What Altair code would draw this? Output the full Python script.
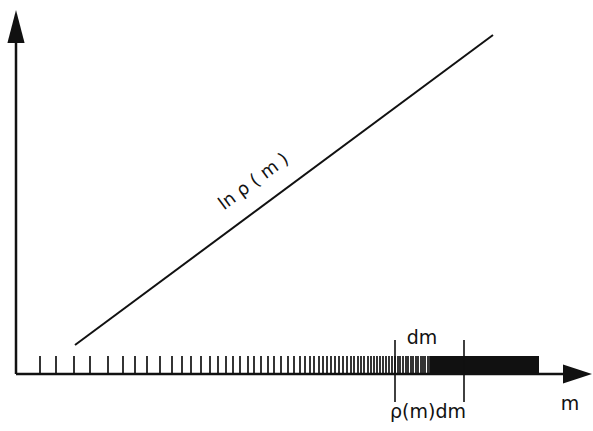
import altair as alt
import pandas as pd

W, H = 593, 431

# Tick positions along the m axis: spacing shrinks as the level density grows
tick_m = [40, 56, 74, 90, 108, 123, 135, 147, 160, 172, 182, 191, 201, 210,
          218, 226, 233, 240, 248, 254, 261, 268, 274, 281, 288, 294, 300,
          305, 310, 314, 319, 323, 327, 331, 335, 339, 343, 347, 351, 354,
          358, 361, 364, 368, 371, 374, 377, 380, 383, 386, 389, 392, 395,
          398, 400, 403, 406, 408, 411, 413, 416, 418, 421, 423, 425, 428,
          430, 432]
tick_base, tick_top = 57, 75

# Region where the levels merge into a continuum
band_m = [430, 539]

# Interval dm
dm_edges = [395, 464]
dm_low, dm_high = 29, 91

# ln rho(m) straight line
line_m = [75, 493]
line_val = [86, 396]

# Axes (origin and ends)
origin = (16, 57)
y_axis_end = 388
x_axis_end = 565

x_scale = alt.Scale(domain=[0, W], nice=False, zero=False)
y_scale = alt.Scale(domain=[0, H], nice=False, zero=False)
INK = "#111111"


def X(field, **kw):
    return alt.X(field, type="quantitative", scale=x_scale, axis=None, **kw)


def Y(field, **kw):
    return alt.Y(field, type="quantitative", scale=y_scale, axis=None, **kw)


axes_df = pd.DataFrame({
    "x": [origin[0], origin[0]],
    "y": [origin[1], origin[1]],
    "x2": [origin[0], x_axis_end],
    "y2": [y_axis_end, origin[1]],
})
axes = alt.Chart(axes_df).mark_rule(color=INK, strokeWidth=2.5).encode(
    x=X("x"), y=Y("y"), x2="x2", y2="y2")

up_head = alt.Chart(pd.DataFrame({"x": [origin[0]], "y": [404.5]})).mark_point(
    shape="M0,-1L0.52,1L-0.52,1Z", filled=True, opacity=1, color=INK,
    size=33 * 33, strokeWidth=0).encode(x=X("x"), y=Y("y"))

right_head = alt.Chart(pd.DataFrame({"x": [577.5], "y": [origin[1]]})).mark_point(
    shape="M1,0L-1,-0.65L-1,0.65Z", filled=True, opacity=1, color=INK,
    size=29 * 29, strokeWidth=0).encode(x=X("x"), y=Y("y"))

ticks_df = pd.DataFrame({"m": tick_m, "y": tick_base, "y2": tick_top})
ticks = alt.Chart(ticks_df).mark_rule(color=INK, strokeWidth=1.7).encode(
    x=X("m"), y=Y("y"), y2="y2")

band = alt.Chart(pd.DataFrame({"m": [band_m[0]], "m2": [band_m[1]],
                               "y": [tick_base], "y2": [tick_top]})).mark_rect(
    color=INK).encode(x=X("m"), x2="m2", y=Y("y"), y2="y2")

edges = alt.Chart(pd.DataFrame({"m": dm_edges, "y": dm_low, "y2": dm_high})).mark_rule(
    color=INK, strokeWidth=1.6).encode(x=X("m"), y=Y("y"), y2="y2")

curve = alt.Chart(pd.DataFrame({"m": line_m, "v": line_val})).mark_line(
    color=INK, strokeWidth=2).encode(x=X("m"), y=Y("v"))

labels_df = pd.DataFrame({
    "x": [254, 422, 570],
    "y": [249, 93, 27],
    "t": ["ln ρ ( m )", "dm", "m"],
    "a": [323.4, 0, 0],
    "s": [18, 19, 19],
})
labels = alt.Chart(labels_df).mark_text(
    font="DejaVu Sans", color=INK, align="center", baseline="middle").encode(
    x=X("x"), y=Y("y"), text="t", angle=alt.Angle("a:Q", scale=None),
    size=alt.Size("s:Q", scale=None, legend=None))

rho_label = alt.Chart(pd.DataFrame({"x": [428], "y": [13], "t": ["ρ(m)dm"]})).mark_text(
    font="DejaVu Sans", fontSize=19, color=INK, align="center",
    baseline="alphabetic").encode(x=X("x"), y=Y("y"), text="t")

chart = alt.layer(
    axes, up_head, right_head, ticks, band, edges, curve, labels, rho_label
).properties(
    width=W, height=H, autosize=alt.AutoSizeParams(type="none"), padding=0,
    background="white"
).configure_view(stroke=None)

chart.save("out.html", embed_options={"renderer": "svg", "actions": False})
